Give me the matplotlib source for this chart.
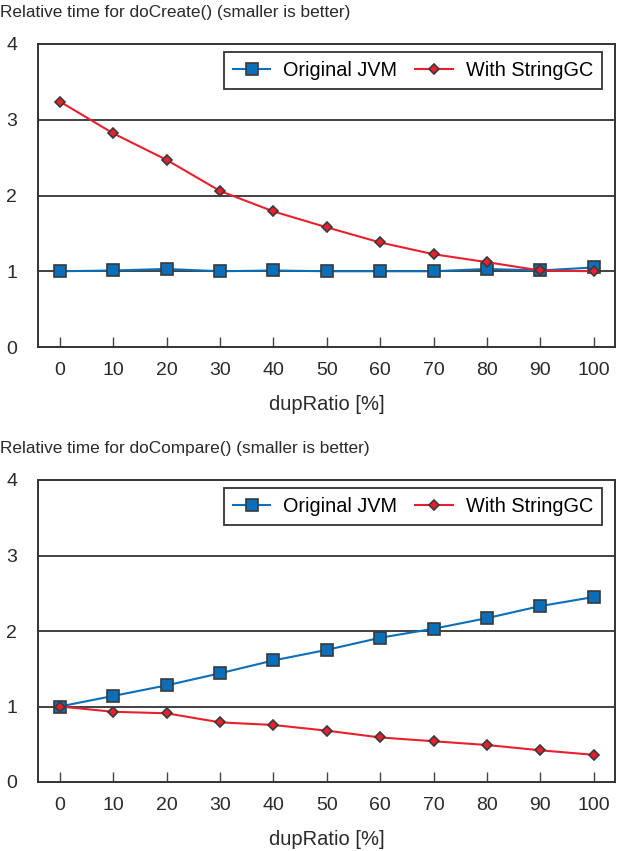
import matplotlib
matplotlib.use("Agg")
import matplotlib.pyplot as plt

plt.rcParams['font.family'] = ['Liberation Sans', 'DejaVu Sans']

dup_ratio = [0, 10, 20, 30, 40, 50, 60, 70, 80, 90, 100]

create_orig = [1.0, 1.01, 1.03, 1.0, 1.01, 1.0, 1.0, 1.0, 1.03, 1.01, 1.05]
create_gc = [3.24, 2.82, 2.47, 2.06, 1.79, 1.58, 1.38, 1.225, 1.12, 1.01, 1.0]

compare_orig = [1.0, 1.14, 1.28, 1.44, 1.61, 1.75, 1.91, 2.03, 2.17, 2.33, 2.45]
compare_gc = [1.0, 0.93, 0.91, 0.79, 0.755, 0.68, 0.59, 0.54, 0.49, 0.42, 0.36]

titles = ["Relative time for doCreate() (smaller is better)",
          "Relative time for doCompare() (smaller is better)"]

blue = '#0a6fba'
red = '#e8202e'
edge = '#3a3a3a'
txt = '#2a2a2a'

W, H = 624, 851
fig = plt.figure(figsize=(W / 100, H / 100), dpi=100)


def draw(top, bottom, title, orig, gc):
    ax = fig.add_axes([38 / W, (H - bottom) / H, (615 - 38) / W, (bottom - top) / H])
    fig.text(0, 1 - (top - 32) / H, title, fontsize=12.4, va='center', ha='left', color=txt)
    for y in [1, 2, 3]:
        ax.axhline(y, color='#333333', lw=1.3, zorder=1)
    ax.plot(dup_ratio, orig, color=blue, lw=1.5, marker='s', ms=8,
            mfc=blue, mec=edge, mew=1.2, label='Original JVM', zorder=3)
    ax.plot(dup_ratio, gc, color=red, lw=1.5, marker='D', ms=5.5,
            mfc=red, mec=edge, mew=1.2, label='With StringGC', zorder=4)
    ax.set_xlim(-4.1, 104.0)
    ax.set_ylim(0, 4)
    ax.set_xticks(dup_ratio)
    ax.set_yticks([0, 1, 2, 3, 4])
    ax.tick_params(axis='x', direction='in', length=7, width=1, color='#444444',
                   labelsize=14, pad=11, labelcolor=txt)
    ax.tick_params(axis='y', length=0, labelsize=14, pad=15, labelcolor=txt)
    for s in ax.spines.values():
        s.set_color('#333333')
        s.set_linewidth(1.4)
    ax.set_xlabel('dupRatio [%]', fontsize=14.5, color=txt, labelpad=11)
    leg = ax.legend(loc='upper right', ncol=2, fontsize=14.3, frameon=True, fancybox=False,
                    edgecolor='#333333', framealpha=1, borderpad=0.45,
                    handlelength=1.9, handletextpad=0.65, columnspacing=0.9,
                    borderaxespad=0, bbox_to_anchor=(564 / 577, 1 - 8 / 303))
    leg.get_frame().set_linewidth(1.3)
    return ax


draw(44, 347, titles[0], create_orig, create_gc)
draw(480, 782, titles[1], compare_orig, compare_gc)

fig.savefig('out.png', dpi=100)
